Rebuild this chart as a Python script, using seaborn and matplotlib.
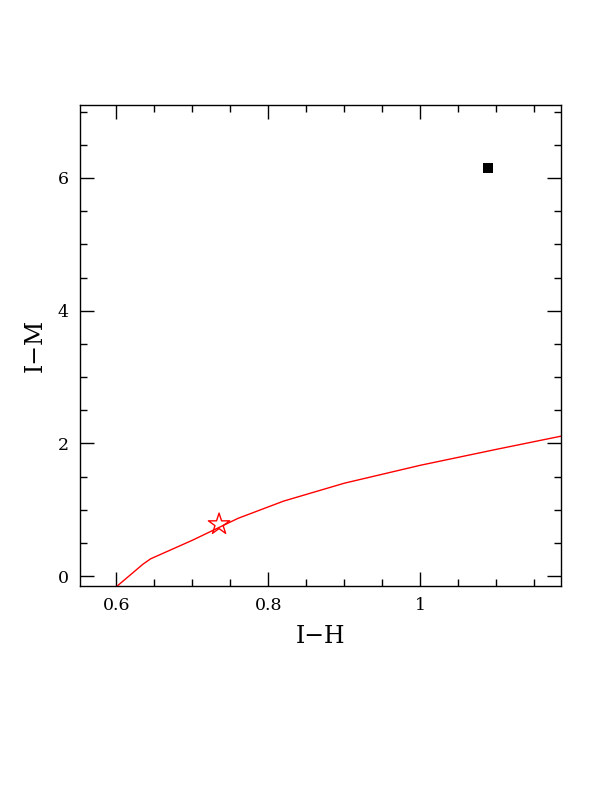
import numpy as np
import pandas as pd
import seaborn as sns
import matplotlib
matplotlib.use("Agg")
import matplotlib.pyplot as plt
from matplotlib.ticker import MultipleLocator

# model track (red line)
track_ih = [0.601, 0.635, 0.645, 0.700, 0.760, 0.820, 0.900, 1.000, 1.100, 1.190]
track_im = [-0.15, 0.18, 0.26, 0.54, 0.87, 1.13, 1.40, 1.67, 1.91, 2.12]
# star on the track
star_ih = [0.735]
star_im = [0.78]
# observed point (black square)
obs_ih = [1.089]
obs_im = [6.15]

sns.set_style('ticks')
plt.rcParams['font.family'] = ['DejaVu Serif']
plt.rcParams['text.color'] = 'black'
plt.rcParams['axes.labelcolor'] = 'black'
plt.rcParams['xtick.color'] = 'black'
plt.rcParams['ytick.color'] = 'black'

fig = plt.figure(figsize=(6.12, 7.92), dpi=100)
ax = fig.add_axes([0.1307, 0.2601, 0.786, 0.6073])

track = pd.DataFrame({'IH': track_ih, 'IM': track_im})
sns.lineplot(data=track, x='IH', y='IM', sort=False, color='red', lw=1, ax=ax)
sns.scatterplot(x=star_ih, y=star_im, marker='*', s=260, facecolor='none',
                edgecolor='red', linewidth=1, ax=ax, zorder=3)
sns.scatterplot(x=obs_ih, y=obs_im, marker='s', s=45, color='black',
                linewidth=0, ax=ax, zorder=3)

ax.set_xlim(0.552, 1.185)
ax.set_ylim(-0.15, 7.1)
ax.xaxis.set_major_locator(MultipleLocator(0.2))
ax.xaxis.set_minor_locator(MultipleLocator(0.05))
ax.yaxis.set_major_locator(MultipleLocator(2))
ax.yaxis.set_minor_locator(MultipleLocator(0.5))
ax.set_xticks([0.6, 0.8, 1.0])
ax.set_xticklabels(['0.6', '0.8', '1'])
ax.tick_params(which='both', direction='in', top=True, right=True,
               labelsize=12.5, color='black', labelcolor='black')
ax.tick_params(which='major', length=10, width=1, pad=8)
ax.tick_params(which='minor', length=5, width=1)
for s in ax.spines.values():
    s.set_linewidth(1)
    s.set_color('black')

ax.set_xlabel('I\u2212H', fontsize=17, labelpad=8, color='black')
ax.set_ylabel('I\u2212M', fontsize=17, labelpad=8, color='black')

fig.savefig('out.png', dpi=100)
